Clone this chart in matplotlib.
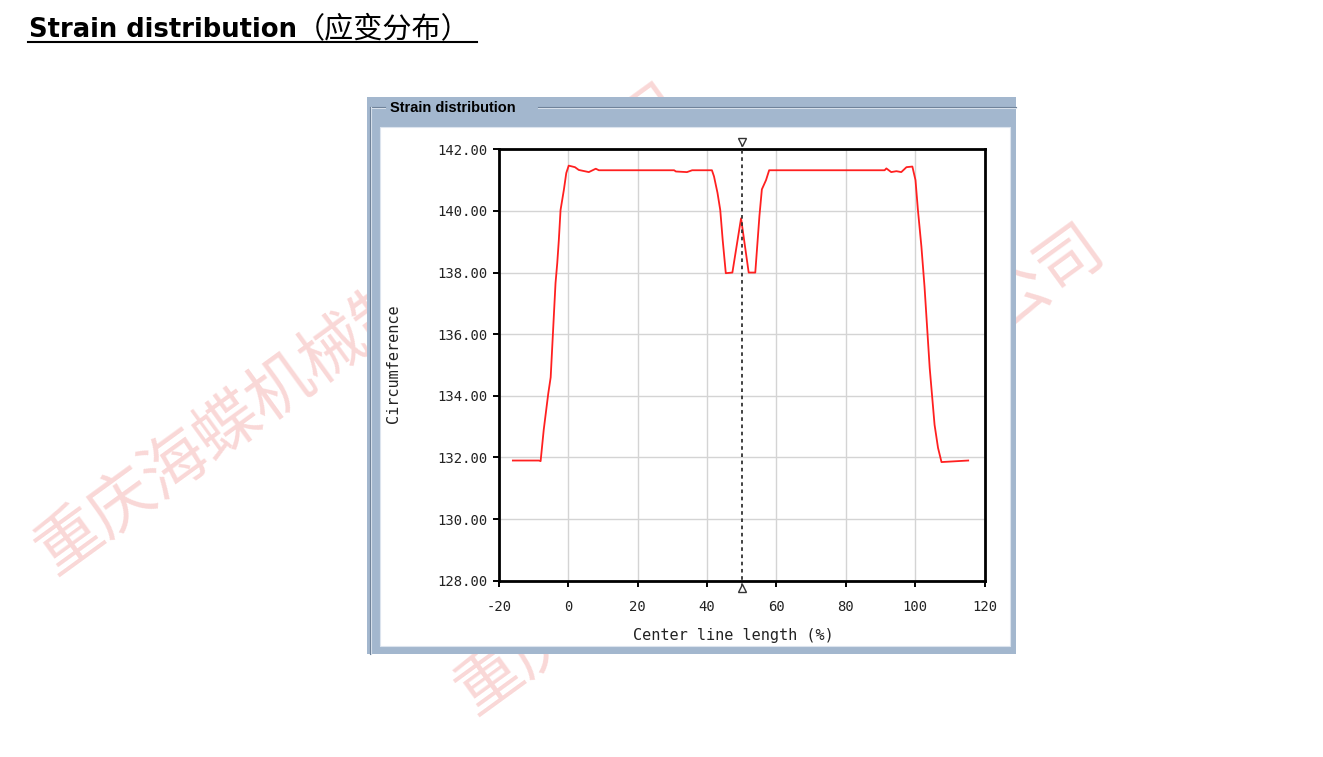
import matplotlib
matplotlib.use("Agg")
import matplotlib.pyplot as plt
from matplotlib.patches import Rectangle
from matplotlib.lines import Line2D

plt.rcParams["axes.unicode_minus"] = False

# values
center_line_pct = [-16.0, -8.5, -8.0, -7.1, -5.8, -5.1, -3.7, -3.2, -2.75, -2.25,
                   -1.3, -0.6, 0.1, 1.9, 3.0, 5.9, 7.9, 8.8, 30.5, 31.0,
                   34.2, 35.7, 41.4, 42.0, 43.0, 43.8, 44.5, 45.4, 47.3, 49.8,
                   52.0, 53.9, 55.1, 55.8, 57.0, 57.9, 91.2, 91.7, 93.1, 94.6,
                   96.0, 97.5, 99.2, 100.1, 100.8, 101.8, 102.7, 104.2, 105.6, 106.6,
                   107.6, 115.3]
circumference = [131.9, 131.9, 131.88, 132.9, 134.07, 134.6, 137.66, 138.31, 139.05, 140.03,
                 140.68, 141.23, 141.47, 141.42, 141.33, 141.26, 141.37, 141.32, 141.32, 141.28,
                 141.26, 141.32, 141.32, 141.12, 140.59, 140.03, 139.06, 137.98, 138.0, 139.76,
                 138.0, 138.0, 139.84, 140.7, 141.0, 141.32, 141.32, 141.38, 141.26, 141.29,
                 141.26, 141.42, 141.44, 141.0, 140.03, 138.85, 137.55, 134.9, 133.06, 132.31,
                 131.85, 131.9]
cursor_x = 50
x_ticks = [-20, 0, 20, 40, 60, 80, 100, 120]
y_ticks = [128, 130, 132, 134, 136, 138, 140, 142]

page_title = "Strain distribution"
page_title_cn = "（应变分布）"
panel_title = "Strain distribution"
watermark = "重庆海蝶机械制造有限公司"

W, H = 1323, 757


def fx(px):
    return px / W


def fy(py):
    return 1 - py / H


fig = plt.figure(figsize=(W / 100, H / 100), dpi=100)

# faint watermark behind everything
for cx, cy in [(360, 330), (780, 470)]:
    fig.text(fx(cx), fy(cy), watermark, fontsize=47, family="Noto Sans CJK SC",
             color="#E53935", alpha=0.2, rotation=36, rotation_mode="anchor",
             ha="center", va="center", zorder=-5)

# page heading with underline
fig.text(fx(29), fy(37), page_title, fontsize=18.6, fontweight="bold",
         family="DejaVu Sans", va="baseline", zorder=3)
fig.text(fx(296), fy(37), page_title_cn, fontsize=21,
         family="Noto Sans CJK SC", va="baseline", zorder=3)
fig.add_artist(Line2D([fx(28), fx(477)], [fy(42), fy(42)], color="black",
                      lw=1.5, transform=fig.transFigure, zorder=3))

# window panel (group box)
fig.add_artist(Rectangle((fx(367), fy(654)), (1016 - 367) / W, (654 - 97) / H,
                         transform=fig.transFigure, facecolor="#A3B7CE",
                         edgecolor="none", zorder=-3))
fig.add_artist(Rectangle((fx(380), fy(646)), (1010 - 380) / W, (646 - 127) / H,
                         transform=fig.transFigure, facecolor="white",
                         edgecolor="#DCE4EE", lw=0.8, zorder=-2))
for off, col in [(0, "#6B7E96"), (1, "#D6DFEA")]:
    fig.add_artist(Line2D([fx(371), fx(385)], [fy(107 + off)] * 2, color=col, lw=0.8,
                          transform=fig.transFigure, zorder=-2))
    fig.add_artist(Line2D([fx(538), fx(1016)], [fy(107 + off)] * 2, color=col, lw=0.8,
                          transform=fig.transFigure, zorder=-2))
    fig.add_artist(Line2D([fx(370 + off)] * 2, [fy(107), fy(654)], color=col, lw=0.8,
                          transform=fig.transFigure, zorder=-2))
fig.text(fx(390), fy(108), panel_title, fontsize=10.5, fontweight="bold",
         family="Liberation Sans", va="center", ha="left", zorder=3)

# plot area
ax = fig.add_axes([fx(499), fy(580.7), (984.5 - 499) / W, (580.7 - 149.3) / H])
ax.set_facecolor("white")
ax.plot(center_line_pct, circumference, color="#FF2020", lw=1.3, zorder=3)

ax.set_xlim(x_ticks[0], x_ticks[-1])
ax.set_ylim(y_ticks[0], y_ticks[-1])
ax.set_xticks(x_ticks)
ax.set_yticks(y_ticks)
ax.set_yticklabels([f"{v:.2f}" for v in y_ticks])
ax.grid(True, color="#D4D4D4", lw=1.0)
ax.set_axisbelow(True)
for s in ax.spines.values():
    s.set_linewidth(2.0)
    s.set_color("black")
ax.tick_params(axis="y", direction="out", length=4, width=1.4, pad=4,
               labelsize=10, labelcolor="#222222")
ax.tick_params(axis="x", direction="out", length=4, width=1.4, pad=10,
               labelsize=10, labelcolor="#222222")
for lab in ax.get_xticklabels() + ax.get_yticklabels():
    lab.set_family("DejaVu Sans Mono")

ax.set_xlabel("Center line length (%)", family="DejaVu Sans Mono", fontsize=11,
              color="#222222", va="center")
ax.xaxis.set_label_coords(0.482, -0.126)
ax.set_ylabel("Circumference", family="DejaVu Sans Mono", fontsize=11,
              color="#222222", va="center")
ax.yaxis.set_label_coords(-0.218, 0.502)

# cursor line with markers
ax.axvline(cursor_x, ymin=-0.015, ymax=1.017, color="#333333", lw=1.3,
           ls=(0, (2, 2)), clip_on=False, zorder=4)
tr = ax.get_xaxis_transform()
ax.plot([cursor_x], [1.018], marker="v", ms=6, mfc="white", mec="#333333",
        mew=1.0, transform=tr, clip_on=False, zorder=5)
ax.plot([cursor_x], [-0.016], marker="^", ms=6, mfc="white", mec="#333333",
        mew=1.0, transform=tr, clip_on=False, zorder=5)

fig.savefig("out.png", dpi=100)
